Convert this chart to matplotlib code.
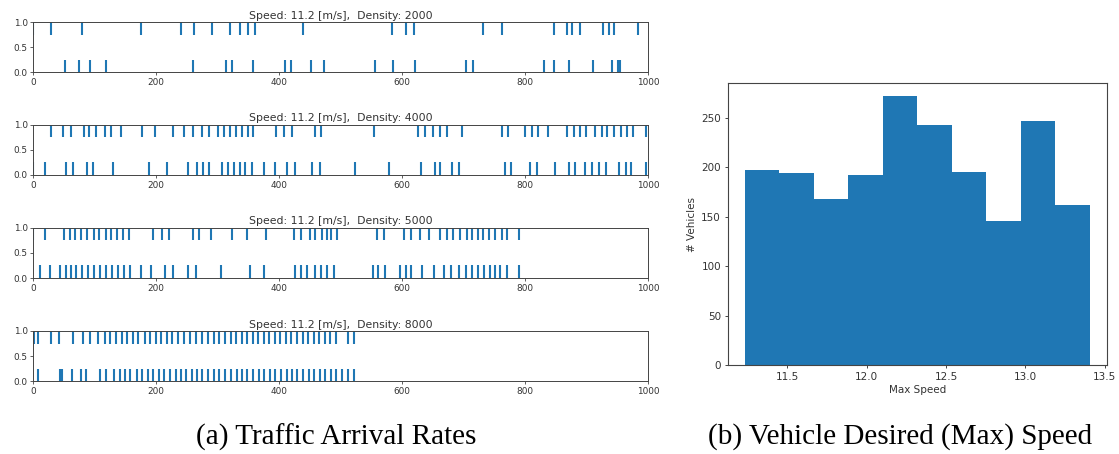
"""
Two-panel figure: traffic arrival events per density (left) and
histogram of vehicle desired max speed (right), with serif captions.
"""

import numpy as np
import matplotlib
matplotlib.use("Agg")
import matplotlib.pyplot as plt

# --- data ------------------------------------------------------------------
speed = 11.2
densities = [2000, 4000, 5000, 8000]

# arrival positions, top lane (y=1) and bottom lane (y=0), per density
top_2000 = [0, 29, 79, 176, 240, 262, 291, 320, 336, 349, 360, 438,
            584, 607, 619, 731, 762, 847, 868, 877, 889, 926, 936, 945, 983]
bot_2000 = [51, 74, 92, 119, 259, 314, 323, 358, 410, 420, 451, 473,
            556, 585, 621, 704, 715, 830, 847, 872, 911, 942, 952, 955]

top_4000 = [28, 49, 61, 82, 91, 102, 116, 126, 142, 177, 198, 227, 245, 260,
            275, 286, 300, 310, 320, 330, 340, 350, 358, 395, 408, 421, 459,
            468, 554, 626, 637, 650, 662, 673, 698, 762, 773, 800, 811, 821,
            838, 868, 879, 889, 899, 914, 925, 934, 945, 956, 966, 976, 997]
bot_4000 = [0, 19, 53, 64, 87, 97, 130, 188, 217, 252, 267, 276, 286, 307,
            317, 327, 336, 345, 355, 375, 394, 413, 425, 453, 466, 524, 578,
            631, 653, 662, 681, 693, 767, 777, 808, 820, 849, 872, 882, 898,
            909, 920, 931, 953, 964, 973, 997]

top_5000 = [0, 19, 50, 59, 68, 78, 88, 98, 107, 118, 127, 136, 146, 156, 195,
            209, 221, 259, 269, 289, 323, 347, 379, 424, 435, 450, 459, 469,
            478, 484, 494, 559, 570, 603, 615, 629, 643, 661, 673, 683, 694,
            705, 713, 723, 732, 741, 751, 762, 770, 790]
bot_5000 = [11, 27, 44, 53, 61, 70, 80, 89, 99, 108, 118, 128, 137, 147, 157,
            176, 192, 214, 228, 251, 264, 305, 353, 376, 425, 435, 446, 458,
            468, 478, 489, 552, 561, 572, 596, 606, 615, 633, 652, 668, 679,
            693, 704, 713, 723, 733, 743, 751, 760, 770, 790]

top_8000 = [1, 8, 29, 41, 65, 81, 92, 106, 117, 125, 135, 144, 153, 162, 171,
            181, 190, 199, 208, 217, 226, 236, 245, 255, 264, 275, 285, 294,
            302, 312, 321, 330, 339, 348, 357, 366, 375, 384, 393, 402, 411,
            420, 429, 438, 447, 456, 465, 474, 483, 493, 512, 522]
bot_8000 = [8, 44, 46, 63, 77, 85, 108, 118, 131, 141, 149, 158, 168, 177,
            186, 195, 204, 213, 222, 232, 241, 249, 258, 267, 275, 285, 294,
            302, 312, 321, 331, 339, 348, 358, 367, 375, 385, 394, 403, 412,
            421, 429, 439, 448, 457, 466, 475, 484, 493, 503, 512, 521]

top_lanes = [top_2000, top_4000, top_5000, top_8000]
bot_lanes = [bot_2000, bot_4000, bot_5000, bot_8000]

# max speed histogram
speed_edges = np.linspace(11.233, 13.405, 11)
speed_counts = [197, 194, 168, 192, 272, 243, 195, 146, 247, 162]

# --- figure ----------------------------------------------------------------
W, H = 1119, 454
fig = plt.figure(figsize=(W / 100, H / 100), dpi=100)


def px_box(left, top, right, bottom):
    """Axes rect from pixel coordinates (origin top-left)."""
    return [left / W, 1 - bottom / H, (right - left) / W, (bottom - top) / H]


spine_color = "#444444"
text_color = "#333333"
strip_tops = [22, 124.7, 227.7, 331]

for i, dens in enumerate(densities):
    ax = fig.add_axes(px_box(33.3, strip_tops[i], 648, strip_tops[i] + 50.3))
    ax.eventplot([bot_lanes[i], top_lanes[i]], lineoffsets=[0, 1],
                 linelengths=0.5, linewidths=1.5, colors="#1f77b4")
    ax.set_xlim(0, 1000)
    ax.set_ylim(0, 1)
    ax.set_xticks([0, 200, 400, 600, 800, 1000])
    ax.set_yticks([0.0, 0.5, 1.0])
    ax.tick_params(labelsize=6.4, length=2, width=0.6, pad=2,
                   colors=spine_color, labelcolor=text_color)
    for s in ax.spines.values():
        s.set_linewidth(0.7)
        s.set_color(spine_color)
    ax.set_title(f"Speed: {speed} [m/s],  Density: {dens}",
                 fontsize=7.8, pad=2.5, color=text_color)

# histogram
axh = fig.add_axes(px_box(727.7, 82.7, 1107, 365.3))
axh.hist(speed_edges[:-1], bins=speed_edges, weights=speed_counts,
         color="#1f77b4")
axh.set_xticks([11.5, 12.0, 12.5, 13.0, 13.5])
axh.set_yticks([0, 50, 100, 150, 200, 250])
axh.tick_params(labelsize=7.5, length=2.4, width=0.7, pad=2.4,
                colors=spine_color, labelcolor=text_color)
for s in axh.spines.values():
    s.set_linewidth(0.8)
    s.set_color(spine_color)
axh.set_xlabel("Max Speed", fontsize=7.5, labelpad=2.5, color=text_color)
axh.set_ylabel("# Vehicles", fontsize=7.5, labelpad=3, color=text_color)

# captions
fig.text(336 / W, 1 - 437 / H, "(a) Traffic Arrival Rates",
         family="Liberation Serif", fontsize=21, ha="center", va="center")
fig.text(900 / W, 1 - 437 / H, "(b) Vehicle Desired (Max) Speed",
         family="Liberation Serif", fontsize=21, ha="center", va="center")

fig.savefig("out.png", dpi=100)
